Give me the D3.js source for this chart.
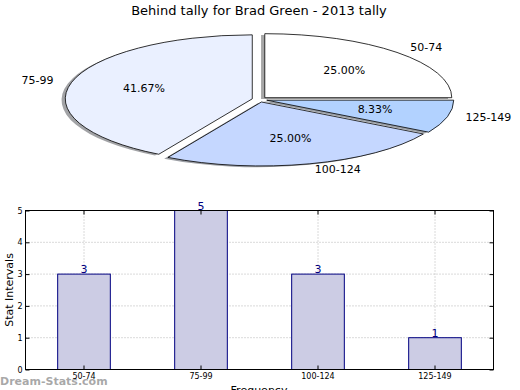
<!DOCTYPE html>
<html><head><meta charset="utf-8">
<script src="https://cdn.jsdelivr.net/npm/d3@7"></script>
<style>body{margin:0;background:#fff}svg{display:block}text{font-family:"DejaVu Sans",sans-serif}</style>
</head><body><svg id="c" width="520" height="390"></svg>
<script>
const title = "Behind tally for Brad Green - 2013 tally";
const categories = ["50-74", "75-99", "100-124", "125-149"];
const counts = [3, 5, 3, 1];
const sliceColors = ["#ffffff", "#eaf0ff", "#c5d7ff", "#b2d2ff"];
const yTicks = [0, 1, 2, 3, 4, 5];
const yLabel = "Stat Intervals";
const xLabel = "Frequency";
const watermark = "Dream-Stats.com";

const svg = d3.select("#c");
svg.append("rect").attr("width",520).attr("height",390).attr("fill","#fff");

svg.append("text").attr("x",259).attr("y",15).attr("text-anchor","middle")
  .attr("font-size",13).text(title);

// ---- Pie (elliptical, exploded, shadowed) ----
const cx = 259.5, cy = 99.5, rx = 187, ry = 64, explode = 0.04;
const total = d3.sum(counts);
const pie = d3.pie().sort(null).startAngle(Math.PI/2).endAngle(Math.PI/2 - 2*Math.PI);
const arcs = pie(counts);
const arcGen = d3.arc().innerRadius(0).outerRadius(1);
const pieG = svg.append("g");
function dark(c){const k=d3.rgb(c);return d3.rgb(k.r*0.3,k.g*0.3,k.b*0.3).toString();}
arcs.forEach((a,i)=>{
  const mid = (a.startAngle + a.endAngle)/2;
  a.ox = cx + explode*Math.sin(mid)*rx;
  a.oy = cy - explode*Math.cos(mid)*ry;
  a.mid = mid;
});
arcs.forEach((a,i)=>{
  pieG.append("path").attr("d", arcGen(a))
    .attr("transform",`translate(${a.ox - 0.02*rx},${a.oy + 0.02*ry}) scale(${rx},${ry})`)
    .attr("fill", dark(sliceColors[i])).attr("fill-opacity",0.5).attr("stroke","none");
});
arcs.forEach((a,i)=>{
  pieG.append("path").attr("d", arcGen(a))
    .attr("transform",`translate(${a.ox},${a.oy}) scale(${rx},${ry})`)
    .attr("fill", sliceColors[i]).attr("stroke","#000").attr("stroke-width",0.8)
    .attr("vector-effect","non-scaling-stroke");
});
arcs.forEach((a,i)=>{
  const s = Math.sin(a.mid), c = Math.cos(a.mid);
  pieG.append("text").attr("x", a.ox + 1.1*s*rx).attr("y", a.oy - 1.1*c*ry)
    .attr("text-anchor", s > 0 ? "start" : "end").attr("dominant-baseline","middle")
    .attr("font-size",11).text(categories[i]);
  pieG.append("text").attr("x", a.ox + 0.6*s*rx).attr("y", a.oy - 0.6*c*ry)
    .attr("text-anchor","middle").attr("dominant-baseline","middle")
    .attr("font-size",11).text((counts[i]/total*100).toFixed(2)+"%");
});

// ---- Bar chart ----
const L = 25.5, R = 493.5, T = 210.5, B = 369.5;
const x = d3.scaleBand().domain(categories).range([L,R]).paddingInner(0.55).paddingOuter(0.275);
const y = d3.scaleLinear().domain([0,5]).range([B,T]);
const g = svg.append("g");
g.selectAll(".hg").data(yTicks).join("line")
  .attr("x1",L).attr("x2",R).attr("y1",d=>y(d)).attr("y2",d=>y(d))
  .attr("stroke","#b4b4b4").attr("stroke-width",1).attr("stroke-dasharray","1,2");
g.selectAll(".vg").data(categories).join("line")
  .attr("x1",d=>x(d)+x.bandwidth()/2).attr("x2",d=>x(d)+x.bandwidth()/2)
  .attr("y1",T).attr("y2",B)
  .attr("stroke","#b4b4b4").attr("stroke-width",1).attr("stroke-dasharray","1,2");
g.selectAll(".bar").data(counts).join("rect")
  .attr("x",(d,i)=>x(categories[i])).attr("width",x.bandwidth())
  .attr("y",d=>y(d)).attr("height",d=>B-y(d))
  .attr("fill","#cccce4").attr("stroke","#000080").attr("stroke-width",1);
g.selectAll(".vl").data(counts).join("text")
  .attr("x",(d,i)=>x(categories[i])+x.bandwidth()/2).attr("y",d=>y(d)-1)
  .attr("text-anchor","middle").attr("font-size",11).attr("fill","#000080").text(d=>d);
g.append("rect").attr("x",L).attr("y",T).attr("width",R-L).attr("height",B-T)
  .attr("fill","none").attr("stroke","#000").attr("stroke-width",1);
const yAxisL = d3.axisLeft(y).tickValues(yTicks).tickSize(-4).tickPadding(3).tickFormat(d3.format("d"));
const ga = g.append("g").attr("transform",`translate(${L},0)`).call(yAxisL);
ga.select(".domain").remove();
ga.selectAll("text").attr("font-size",8).attr("font-family","DejaVu Sans");
const gr = g.append("g").attr("transform",`translate(${R},0)`).call(d3.axisRight(y).tickValues(yTicks).tickSize(-4).tickFormat(""));
gr.select(".domain").remove();
svg.append("text").attr("x",0).attr("y",385).attr("font-size",11).attr("font-weight","bold")
  .attr("fill","#999").attr("fill-opacity",0.85).text(watermark);
const gb = g.append("g").attr("transform",`translate(0,${B})`).call(d3.axisBottom(x).tickSize(-4).tickPadding(4));
gb.select(".domain").remove();
gb.selectAll("text").attr("font-size",8).attr("font-family","DejaVu Sans");
const gt = g.append("g").attr("transform",`translate(0,${T})`).call(d3.axisTop(x).tickSize(-4).tickFormat(""));
gt.select(".domain").remove();
g.selectAll(".tick line").attr("stroke","#000");
svg.append("text").attr("transform","translate(13,290) rotate(-90)").attr("text-anchor","middle")
  .attr("font-size",11).text(yLabel);
svg.append("text").attr("x",259).attr("y",394).attr("text-anchor","middle").attr("font-size",11).text(xLabel);
</script></body></html>
